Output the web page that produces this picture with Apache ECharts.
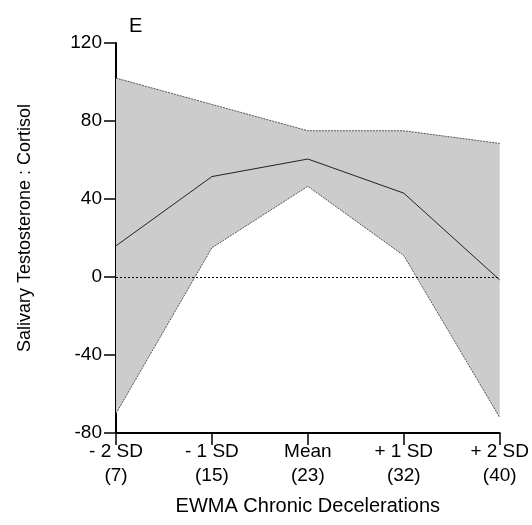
<!DOCTYPE html>
<html><head><meta charset="utf-8">
<script src="https://cdn.jsdelivr.net/npm/echarts@6/dist/echarts.min.js"></script>
<style>html,body{margin:0;padding:0;background:#fff}#c{width:532px;height:525px}</style>
</head><body><div id="c"></div>
<script>
var categories = ['- 2 SD\n(7)', '- 1 SD\n(15)', 'Mean\n(23)', '+ 1 SD\n(32)', '+ 2 SD\n(40)'];
var meanValues = [16, 51.5, 60.5, 43, -1.5];
var upperValues = [102, 88.5, 75, 75, 68.5];
var lowerValues = [-70, 15, 46.5, 11, -72];
var yTicks = [-80, -40, 0, 40, 80, 120];

var bandWidth = upperValues.map(function (u, i) { return u - lowerValues[i]; });
var font = 'Liberation Sans, Arial, sans-serif';

var chart = echarts.init(document.getElementById('c'), null, {renderer: 'canvas'});
chart.setOption({
  animation: false,
  backgroundColor: '#ffffff',
  title: {text: 'E', left: 124, top: 11, textStyle: {fontFamily: font, fontSize: 20, fontWeight: 'normal', color: '#000'}},
  graphic: [{
    type: 'text', x: 25, y: 228, rotation: Math.PI / 2,
    style: {text: 'Salivary Testosterone : Cortisol', font: '18px ' + font, fill: '#000',
            textAlign: 'center', textVerticalAlign: 'middle'}
  }],
  grid: {left: 116, right: 32, top: 43, bottom: 92, containLabel: false},
  xAxis: {
    type: 'category', data: categories, boundaryGap: false,
    name: 'EWMA Chronic Decelerations', nameLocation: 'middle', nameGap: 63,
    nameTextStyle: {fontFamily: font, fontSize: 20, color: '#000'},
    axisLine: {onZero: false, lineStyle: {color: '#000', width: 2}},
    axisTick: {show: true, length: 12, lineStyle: {color: '#000', width: 1.5}},
    axisLabel: {fontFamily: font, fontSize: 19, color: '#000', margin: 7, lineHeight: 24, interval: 0},
    splitLine: {show: false}
  },
  yAxis: {
    type: 'value', min: yTicks[0], max: yTicks[yTicks.length - 1], interval: 40,
    axisLine: {show: true, lineStyle: {color: '#000', width: 2}},
    axisTick: {show: true, length: 12, lineStyle: {color: '#000', width: 1.5}},
    axisLabel: {fontFamily: font, fontSize: 19, color: '#000', margin: 14},
    splitLine: {show: false}
  },
  series: [
    {
      type: 'line', data: lowerValues, stack: 'band', stackStrategy: 'all',
      symbol: 'none', lineStyle: {color: '#555', width: 1, type: [2, 1]}, z: 3
    },
    {
      type: 'line', data: bandWidth, stack: 'band', stackStrategy: 'all',
      symbol: 'none', lineStyle: {color: '#555', width: 1, type: [2, 1]},
      areaStyle: {color: '#cccccc', opacity: 1}, z: 2
    },
    {
      type: 'line', data: meanValues, symbol: 'none',
      lineStyle: {color: '#222', width: 1}, z: 4,
      markLine: {
        silent: true, symbol: 'none', label: {show: false},
        lineStyle: {color: '#000', width: 1.2, type: [2, 2]},
        data: [{yAxis: 0}]
      }
    }
  ]
});
</script></body></html>
